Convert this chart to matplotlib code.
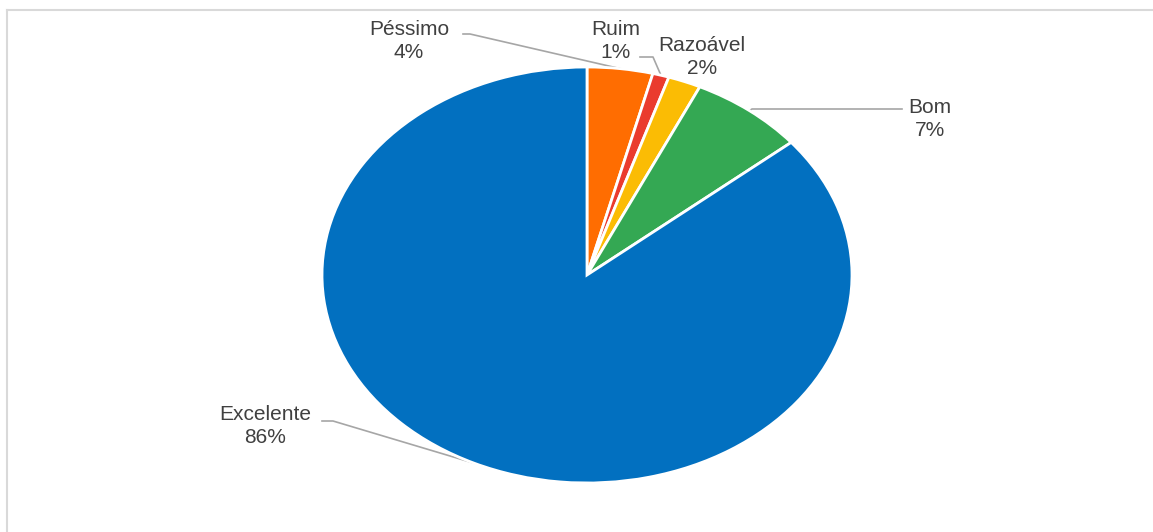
import matplotlib.pyplot as plt
from matplotlib.lines import Line2D
import numpy as np

plt.rcParams['font.family'] = ['Liberation Sans', 'DejaVu Sans']

categories = ['Péssimo', 'Ruim', 'Razoável', 'Bom', 'Excelente']
values = [4, 1, 2, 7, 86]
colors = ['#ff6d01', '#ea3b2e', '#fbbc04', '#34a853', '#0270c0']

W, H = 1153, 532
CX, CY, RX, RY = 587, 275, 265, 208


def px(x, y):
    # figure pixel -> data coords of the stretched pie
    return (x - CX) / RX, (CY - y) / RY


fig = plt.figure(figsize=(W / 100, H / 100), dpi=100)
ax = fig.add_axes([0, 0, 1, 1])
wedges, _ = ax.pie(values, colors=colors, startangle=90, counterclock=False,
                   radius=1, wedgeprops=dict(edgecolor='white', linewidth=2))
ax.set_aspect('auto')
ax.set_xlim(-CX / RX, (W - CX) / RX)
ax.set_ylim((CY - H) / RY, CY / RY)
ax.axis('off')

# label centre (px) and leader start points (px), None = no leader
label_pos = [(409, 41), (616, 41), (702, 57), (930, 119), (265, 426)]
leaders = [[(463, 34), (470, 34)],
           [(640, 57), (653, 57)],
           None,
           [(902, 109), (752, 109)],
           [(322, 421), (333, 421)]]

for w, name, v, lp, ld in zip(wedges, categories, values, label_pos, leaders):
    tx, ty = px(*lp)
    ax.text(tx, ty, f'{name}\n{v}%', ha='center', va='center', fontsize=15,
            color='#404040', linespacing=1.28)
    if ld is None:
        continue
    mid = np.deg2rad((w.theta1 + w.theta2) / 2)
    pts = [px(*p) for p in ld] + [(np.cos(mid), np.sin(mid))]
    xs, ys = zip(*pts)
    ax.plot(xs, ys, color='#a6a6a6', lw=1.2, zorder=0)

bx, by = 7 / W, 1 - 10 / H
fig.add_artist(Line2D([bx, bx], [0, by], color='#d9d9d9', lw=1.5))
fig.add_artist(Line2D([bx, 1], [by, by], color='#d9d9d9', lw=1.5))

fig.savefig('out.png', dpi=100)
